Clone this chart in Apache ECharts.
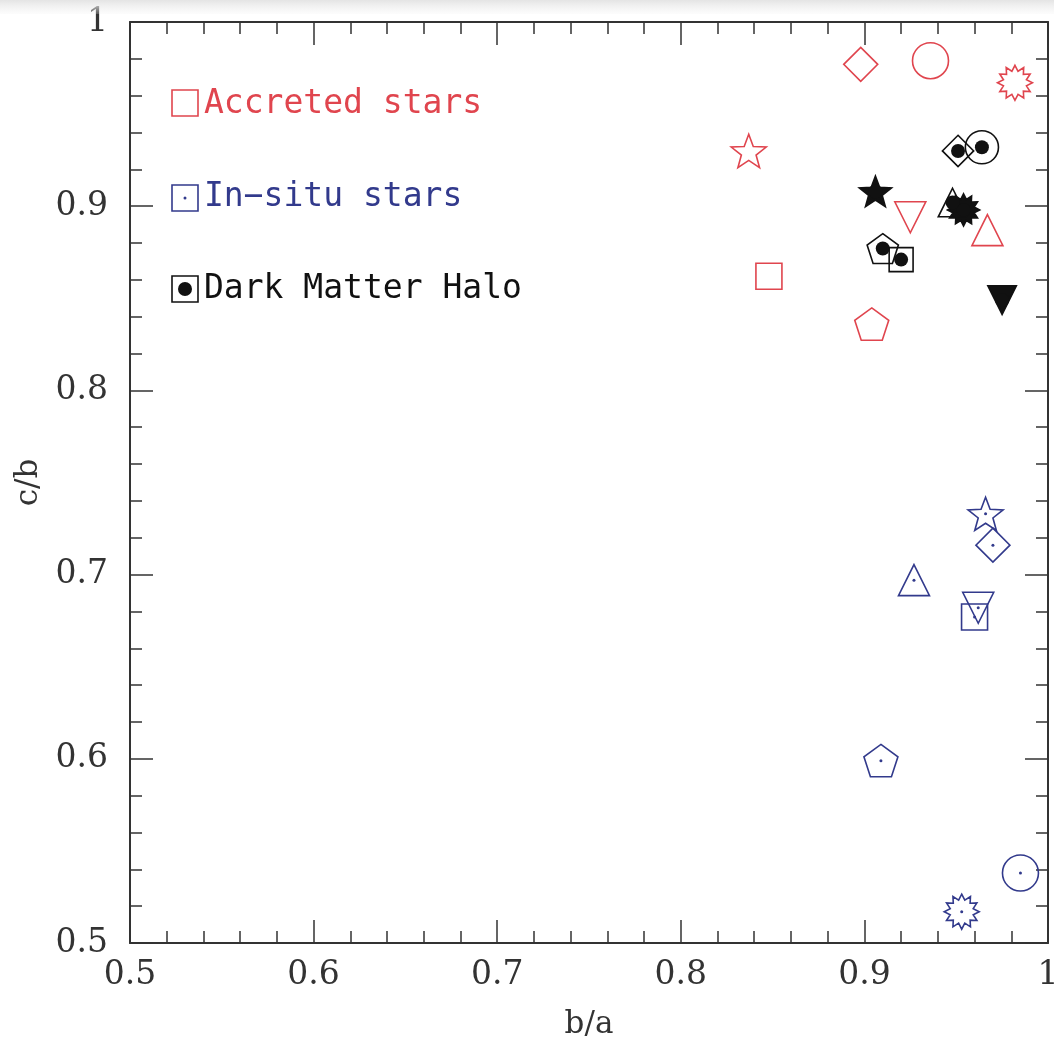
<!DOCTYPE html>
<html><head><meta charset="utf-8">
<script src="https://cdn.jsdelivr.net/npm/echarts@6/dist/echarts.min.js"></script>
<style>html,body{margin:0;padding:0;background:#fff;overflow:hidden}#c{width:1054px;height:1042px}</style>
</head><body><div id="c"></div>
<script>
// Halo marker identities (same order in every group)
const halos = ['circle','diamond','sun','star','invtri','triangle','square','pentagon'];
// Accreted stars
const accretedX = [0.936,0.898,0.982,0.837,0.925,0.967,0.848,0.904];
const accretedY = [0.979,0.977,0.967,0.930,0.894,0.887,0.862,0.836];
// In-situ stars
const insituX = [0.985,0.970,0.953,0.966,0.962,0.927,0.960,0.909];
const insituY = [0.538,0.716,0.517,0.733,0.682,0.697,0.677,0.599];
// Dark matter halo
const haloX = [0.964,0.951,0.954,0.906,0.975,0.948,0.920,0.910];
const haloY = [0.932,0.930,0.898,0.908,0.849,0.902,0.871,0.877];
// Axis ticks
const xTicks = [0.5,0.6,0.7,0.8,0.9,1];
const yTicks = [0.5,0.6,0.7,0.8,0.9,1];

function starPath(n, R, r){
  let s='';
  for(let i=0;i<2*n;i++){
    const a = -Math.PI/2 + i*Math.PI/n;
    const rad = i%2===0?R:r;
    s += (i===0?'M':'L') + (100*rad*Math.cos(a)).toFixed(2)+','+(100*rad*Math.sin(a)).toFixed(2)+' ';
  }
  return 'path://'+s+'Z';
}
function polyPath(n){
  let s='';
  for(let i=0;i<n;i++){
    const a=-Math.PI/2+i*2*Math.PI/n;
    s+=(i===0?'M':'L')+(100*Math.cos(a)).toFixed(2)+','+(100*Math.sin(a)).toFixed(2)+' ';
  }
  return 'path://'+s+'Z';
}
const symMap = {
  circle:{symbol:'circle',size:36,rot:0},
  diamond:{symbol:'diamond',size:34,rot:0},
  sun:{symbol:starPath(12,1,0.68),size:35,rot:0},
  star:{symbol:starPath(5,1,0.42),size:35,rot:0},
  invtri:{symbol:'triangle',size:31,rot:180},
  triangle:{symbol:'triangle',size:31,rot:0},
  square:{symbol:'rect',size:26,rot:0},
  pentagon:{symbol:polyPath(5),size:34,rot:0}
};
const RED='#e0454e', BLUE='#323a8c', BLACK='#111111';
function outlineData(xs, ys, color, filledSet, scale){
  return xs.map((x,i)=>{
    const m=symMap[halos[i]];
    const filled = filledSet && filledSet.indexOf(halos[i])>=0;
    return {value:[x,ys[i]], symbol:m.symbol, symbolSize:m.size*(scale||1), symbolRotate:m.rot,
      itemStyle:{color: filled?color:'rgba(0,0,0,0)', borderColor:color, borderWidth:1.6, opacity:1}};
  });
}
const fontAx = 'DejaVu Serif';
const baseAxis = {
  type:'value', min:0.5, max:1, interval:0.1,
  axisLine:{show:true, lineStyle:{color:'#333', width:2}},
  axisTick:{show:true, inside:true, length:23, lineStyle:{color:'#333', width:1.5}},
  minorTick:{show:true, splitNumber:5, length:12, lineStyle:{color:'#333', width:1.5}},
  splitLine:{show:false}, minorSplitLine:{show:false}
};
const option = {
  backgroundColor:'#fff',
  animation:false,
  grid:{left:130, top:22, right:6, bottom:99, containLabel:false, outerBoundsMode:'none'},
  xAxis:[
    Object.assign({}, baseAxis, {position:'bottom', name:'b/a', nameLocation:'middle', nameGap:66,
      nameTextStyle:{fontFamily:fontAx, fontSize:31, color:'#333'},
      axisLabel:{show:true, margin:16, fontFamily:fontAx, fontSize:33, color:'#333', hideOverlap:false,
        formatter:v=>xTicks.indexOf(+v.toFixed(2))>=0?String(+v.toFixed(2)):''}}),
    Object.assign({}, baseAxis, {position:'top', axisLabel:{show:false}})
  ],
  yAxis:[
    Object.assign({}, baseAxis, {position:'left', name:'c/b', nameLocation:'middle', nameGap:73, nameRotate:90,
      nameTextStyle:{fontFamily:fontAx, fontSize:31, color:'#333'},
      axisLabel:{show:true, margin:22, fontFamily:fontAx, fontSize:33, color:'#333',
        formatter:v=>yTicks.indexOf(+v.toFixed(2))>=0?String(+v.toFixed(2)):''}}),
    Object.assign({}, baseAxis, {position:'right', axisLabel:{show:false}})
  ],
  graphic:[
    {type:'rect', left:0, top:0, shape:{width:1054, height:14}, z:100,
      style:{fill:{type:'linear',x:0,y:0,x2:0,y2:1,colorStops:[{offset:0,color:'#e4e4e4'},{offset:1,color:'rgba(240,240,240,0.2)'}]}}},
    {type:'rect', shape:{x:172,y:90,width:26,height:26}, style:{fill:'none', stroke:RED, lineWidth:1.6}},
    {type:'text', x:204, y:104, style:{text:'Accreted stars', fill:RED, font:'33px "DejaVu Sans Mono"', textVerticalAlign:'middle', verticalAlign:'middle'}},
    {type:'rect', shape:{x:172,y:185,width:26,height:26}, style:{fill:'none', stroke:BLUE, lineWidth:1.6}},
    {type:'circle', shape:{cx:185,cy:198,r:1.5}, style:{fill:BLUE}},
    {type:'text', x:204, y:197, style:{text:'In\u2212situ stars', fill:BLUE, font:'33px "DejaVu Sans Mono"', textVerticalAlign:'middle', verticalAlign:'middle'}},
    {type:'rect', shape:{x:172,y:276,width:26,height:26}, style:{fill:'none', stroke:BLACK, lineWidth:1.6}},
    {type:'circle', shape:{cx:185,cy:289,r:7}, style:{fill:BLACK}},
    {type:'text', x:204, y:289, style:{text:'Dark Matter Halo', fill:BLACK, font:'33px "DejaVu Sans Mono"', textVerticalAlign:'middle', verticalAlign:'middle'}}
  ],
  series:[
    {type:'scatter', name:'Accreted stars', symbolKeepAspect:true, data:outlineData(accretedX, accretedY, RED)},
    {type:'scatter', name:'In-situ stars', symbolKeepAspect:true, data:outlineData(insituX, insituY, BLUE)},
    {type:'scatter', name:'In-situ centre', symbol:'circle', symbolSize:3, itemStyle:{color:BLUE, opacity:1},
      data:insituX.map((x,i)=>[x,insituY[i]])},
    {type:'scatter', name:'Dark Matter Halo', symbolKeepAspect:true, data:outlineData(haloX, haloY, BLACK, ['star','sun','invtri'], 0.92)},
    {type:'scatter', name:'Halo centre', symbol:'circle', symbolSize:14, itemStyle:{color:BLACK, opacity:1},
      data:haloX.map((x,i)=>[x,haloY[i]])}
  ]
};
const chart = echarts.init(document.getElementById('c'), null, {renderer:'canvas'});
chart.setOption(option);
</script>
</body></html>
